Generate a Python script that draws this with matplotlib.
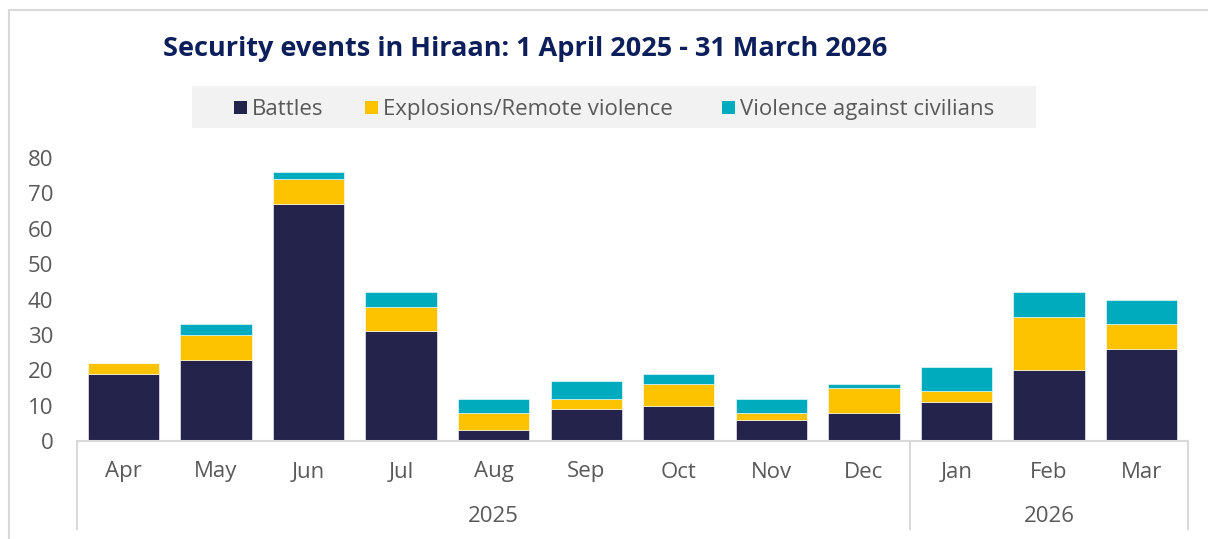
import numpy as np
import matplotlib
matplotlib.use("Agg")
import matplotlib.pyplot as plt
from matplotlib.lines import Line2D
from matplotlib.patches import Rectangle

plt.rcParams['font.family'] = ['Open Sans', 'DejaVu Sans']

months = ["Apr", "May", "Jun", "Jul", "Aug", "Sep", "Oct", "Nov", "Dec", "Jan", "Feb", "Mar"]
years = ["2025", "2026"]
year_counts = [9, 3]

battles = [19, 23, 67, 31, 3, 9, 10, 6, 8, 11, 20, 26]
explosions = [3, 7, 7, 7, 5, 3, 6, 2, 7, 3, 15, 7]
civilians = [0, 3, 2, 4, 4, 5, 3, 4, 1, 7, 7, 7]

series = ["Battles", "Explosions/Remote violence", "Violence against civilians"]
colors = ["#24234c", "#fdc300", "#00abbd"]

W, H = 1208, 539
fig = plt.figure(figsize=(W / 100, H / 100), dpi=100)

# outer frame (left + top only)
fig.add_artist(Line2D([9 / W, 9 / W], [0, 1 - 10 / H], color="#d9d9d9", lw=1.5))
fig.add_artist(Line2D([9 / W, 1], [1 - 10 / H, 1 - 10 / H], color="#d9d9d9", lw=1.5))

ax = fig.add_axes([77 / W, (H - 441) / H, (1188 - 77) / W, (441 - 158) / H])
x = np.arange(len(months))
bottom = np.zeros(len(months))
for vals, col in zip([battles, explosions, civilians], colors):
    ax.bar(x, vals, width=0.77, bottom=bottom, color=col, edgecolor="white", linewidth=0.4)
    bottom += np.array(vals)

ax.set_xlim(-0.5, len(months) - 0.5)
ax.set_ylim(0, 80)
ax.set_yticks(range(0, 81, 10))
ax.tick_params(axis="y", length=0, pad=17, labelsize=16, labelcolor="#595959")
ax.set_xticks([])
for s in ["top", "right", "left"]:
    ax.spines[s].set_visible(False)
ax.spines["bottom"].set_color("#d9d9d9")
ax.spines["bottom"].set_linewidth(1.5)

trans = ax.get_xaxis_transform()
y_low = -(529 - 441) / 283
for i, m in enumerate(months):
    ax.text(i, -(472 - 441) / 283, m, transform=trans, ha="center", va="center",
            fontsize=16, color="#595959")
start = 0
edges = [-0.5]
for yr, n in zip(years, year_counts):
    ax.text(start + (n - 1) / 2, -(516 - 441) / 283, yr, transform=trans, ha="center",
            va="center", fontsize=16, color="#595959")
    start += n
    edges.append(start - 0.5)
for e in edges:
    ax.plot([e, e], [0, y_low], transform=trans, color="#d9d9d9", lw=1.5, clip_on=False)

# title
fig.text(163 / W, 1 - 49 / H, "Security events in Hiraan: 1 April 2025 - 31 March 2026",
         fontsize=19.5, fontweight="bold", color="#0c1f5b", ha="left", va="center")

# legend box
fig.add_artist(Rectangle((192 / W, 1 - 128 / H), (1036 - 192) / W, 42 / H,
                         transform=fig.transFigure, facecolor="#f2f2f2", edgecolor="none"))
leg_x = [234, 365, 722]
for lx, name, col in zip(leg_x, series, colors):
    fig.add_artist(Rectangle((lx / W, 1 - 114 / H), 13 / W, 13 / H,
                             transform=fig.transFigure, facecolor=col, edgecolor="none"))
    fig.text((lx + 18) / W, 1 - 115 / H, name, fontsize=16, color="#595959",
             ha="left", va="baseline")

fig.savefig("out.png", dpi=100)
